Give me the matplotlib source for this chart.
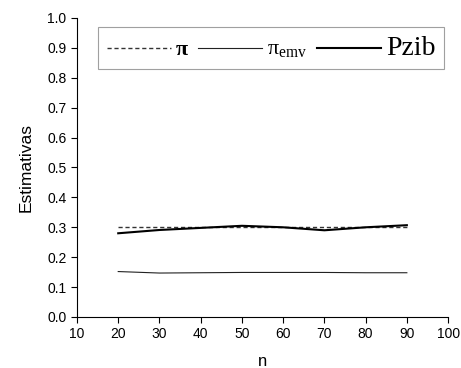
import matplotlib
matplotlib.use("Agg")
import matplotlib.pyplot as plt
from matplotlib.lines import Line2D

n = [20, 30, 40, 50, 60, 70, 80, 90]
pi_true = [0.30, 0.30, 0.30, 0.30, 0.30, 0.30, 0.30, 0.30]
pi_emv = [0.152, 0.147, 0.148, 0.149, 0.149, 0.149, 0.148, 0.148]
pzib = [0.280, 0.291, 0.298, 0.305, 0.300, 0.290, 0.300, 0.307]

plt.rcParams['font.family'] = ['Liberation Sans', 'DejaVu Sans']
plt.rcParams['mathtext.fontset'] = 'custom'
plt.rcParams['mathtext.rm'] = 'Liberation Serif'

fig = plt.figure(figsize=(4.61, 3.68), dpi=100)
ax = fig.add_axes([0.167, 0.1386, 0.805, 0.8125])

ax.plot(n, pi_true, linestyle=(0, (3, 2)), color='#333333', linewidth=1.0)
ax.plot(n, pi_emv, color='#222222', linewidth=0.8)
ax.plot(n, pzib, color='black', linewidth=1.5)

ax.set_xlim(10, 100)
ax.set_ylim(0, 1.0)
ax.set_xticks(range(10, 101, 10))
ax.set_yticks([i / 10 for i in range(11)])
ax.set_yticklabels([f"{i/10:.1f}" for i in range(11)])
ax.spines['top'].set_visible(False)
ax.spines['right'].set_visible(False)
ax.tick_params(direction='out', length=4, width=0.8, labelsize=10)
ax.set_xlabel('n', fontsize=12, labelpad=9)
ax.set_ylabel('Estimativas', fontsize=12.5, labelpad=10)

handles = [
    Line2D([], [], linestyle=(0, (3, 2)), color='#333333', linewidth=1.0),
    Line2D([], [], color='#222222', linewidth=0.8),
    Line2D([], [], color='black', linewidth=1.5),
]
labels = ['π', r'$\mathrm{π}_{\mathrm{emv}}$', 'Pzib']
leg = ax.legend(handles, labels, loc='upper left', bbox_to_anchor=(0.057, 0.97),
                borderaxespad=0.0,
                ncol=3, frameon=True, fancybox=False, edgecolor='#888888',
                handlelength=3.3, handletextpad=0.25, columnspacing=0.5,
                borderpad=0.45, prop={'family': 'Liberation Serif', 'size': 14})
leg.get_frame().set_linewidth(0.8)
t = leg.get_texts()
t[0].set_fontweight('bold')
t[0].set_fontsize(16)
t[1].set_fontsize(16)
t[2].set_fontsize(20)

fig.savefig('out.png', dpi=100)
